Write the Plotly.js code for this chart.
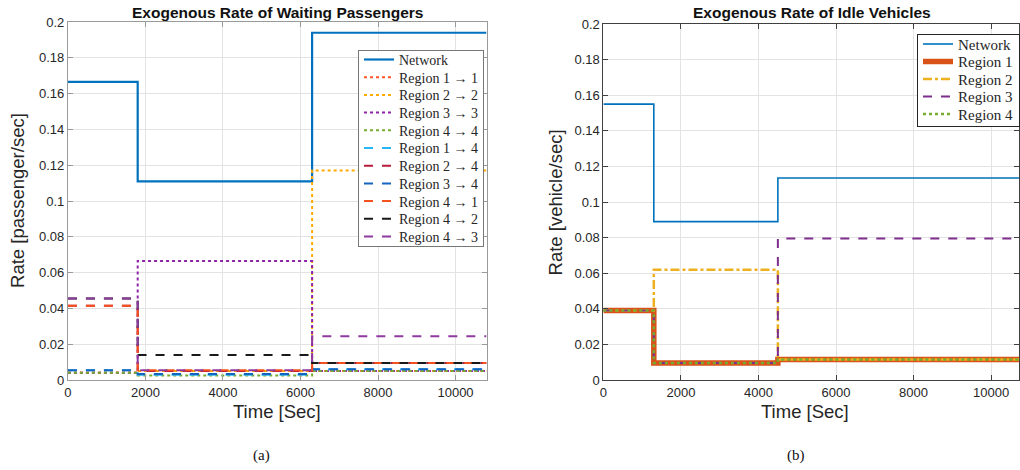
<!DOCTYPE html>
<html>
<head>
<meta charset="utf-8">
<script src="https://cdn.plot.ly/plotly-3.0.1.min.js"></script>
<style>html,body{margin:0;padding:0;background:#fff;}#chart{width:1020px;height:470px;}</style>
</head>
<body>
<div id="chart"></div>
<script>
// ---- Data: left panel (a) ----
var timesA = [0, 1800, 6300, 10800];
var namesA = ["Network", "Region 1 → 1", "Region 2 → 2", "Region 3 → 3", "Region 4 → 4",
              "Region 1 → 4", "Region 2 → 4", "Region 3 → 4", "Region 4 → 1", "Region 4 → 2", "Region 4 → 3"];
var networkA = [0.1665, 0.111, 0.194];
var r11 = [0.004, 0.005, 0.005];
var r22 = [0.004, 0.005, 0.117];
var r33 = [0.004, 0.0665, 0.005];
var r44 = [0.004, 0.0025, 0.005];
var r14 = [0.0055, 0.003, 0.006];
var r24 = [0.0415, 0.005, 0.0095];
var r34 = [0.0055, 0.0033, 0.006];
var r41 = [0.0415, 0.0055, 0.0095];
var r42 = [0.0455, 0.014, 0.0095];
var r43 = [0.0455, 0.0055, 0.0245];

// ---- Data: right panel (b) ----
var timesB = [0, 1300, 4500, 10800];
var namesB = ["Network", "Region 1", "Region 2", "Region 3", "Region 4"];
var networkB = [0.155, 0.089, 0.1135];
var reg1 = [0.039, 0.0095, 0.0115];
var reg2 = [0.039, 0.062, 0.0115];
var reg3 = [0.039, 0.0095, 0.0795];
var reg4 = [0.039, 0.0095, 0.0115];

function stepY(v){ return v.concat([v[v.length-1]]); }

var seriesA = [networkA, r11, r22, r33, r44, r14, r24, r34, r41, r42, r43];
var stylesA = [
  {color:'#0072BD', dash:'solid', width:2.2},
  {color:'#FF5722', dash:'dot', width:2},
  {color:'#FFAA00', dash:'dot', width:2},
  {color:'#8E24AA', dash:'dot', width:2},
  {color:'#77AC30', dash:'dot', width:2},
  {color:'#29B6F6', dash:'dash', width:2},
  {color:'#B71C3C', dash:'dash', width:2},
  {color:'#1565C0', dash:'dash', width:2},
  {color:'#F4511E', dash:'dash', width:2},
  {color:'#1a1a1a', dash:'dash', width:2},
  {color:'#8E3A9E', dash:'dash', width:2}
];
var traces = [];
for (var i = 0; i < seriesA.length; i++) {
  traces.push({x: timesA, y: stepY(seriesA[i]), name: namesA[i], mode:'lines',
    line:{shape:'hv', color:stylesA[i].color, dash:stylesA[i].dash, width:stylesA[i].width},
    xaxis:'x', yaxis:'y', legend:'legend'});
}
var seriesB = [networkB, reg1, reg2, reg3, reg4];
var stylesB = [
  {color:'#0072BD', dash:'solid', width:1.6},
  {color:'#D95319', dash:'solid', width:5.5},
  {color:'#EDB120', dash:'dashdot', width:2.5},
  {color:'#7E2F8E', dash:'dash', width:2},
  {color:'#77AC30', dash:'dot', width:2.5}
];
for (var j = 0; j < seriesB.length; j++) {
  traces.push({x: timesB, y: stepY(seriesB[j]), name: namesB[j], mode:'lines',
    line:{shape:'hv', color:stylesB[j].color, dash:stylesB[j].dash, width:stylesB[j].width},
    xaxis:'x2', yaxis:'y2', legend:'legend2'});
}

var W = 1020, H = 470;
function fx(p){ return p / W; }
function fy(p){ return 1 - p / H; }
var sans = 'Liberation Sans, Arial, sans-serif';
var serif = 'Liberation Serif, Times New Roman, serif';
var tickFont = {family:sans, size:13, color:'#262626'};
var axisCommon = {showgrid:true, gridcolor:'#e3e3e3', zeroline:false, showline:true, mirror:'ticks',
  ticks:'inside', ticklen:5, tickfont:tickFont};

function ann(text, px, py, size, family, color, angle){
  var a = {text:text, x:fx(px), y:fy(py), xref:'paper', yref:'paper', xanchor:'center', yanchor:'middle',
    showarrow:false, font:{family:family, size:size, color:color}};
  if (angle !== undefined) a.textangle = angle;
  return a;
}

var layout = {
  width: W, height: H,
  margin: {l:0, r:0, t:0, b:0},
  paper_bgcolor:'#fff', plot_bgcolor:'#fff',
  showlegend: true,
  xaxis: Object.assign({}, axisCommon, {domain:[fx(68), fx(487)], range:[0,10800], dtick:2000, tick0:0,
    tickformat:'d', linecolor:'#9a9a9a', tickcolor:'#9a9a9a', anchor:'y'}),
  yaxis: Object.assign({}, axisCommon, {domain:[fy(380), fy(22)], range:[0,0.2], dtick:0.02,
    linecolor:'#9a9a9a', tickcolor:'#9a9a9a', anchor:'x'}),
  xaxis2: Object.assign({}, axisCommon, {domain:[fx(604), 1], range:[0,10720], dtick:2000, tick0:0,
    tickformat:'d', linecolor:'#404040', tickcolor:'#404040', anchor:'y2'}),
  yaxis2: Object.assign({}, axisCommon, {domain:[fy(380), fy(24)], range:[0,0.2], dtick:0.02,
    linecolor:'#404040', tickcolor:'#404040', anchor:'x2'}),
  legend: {x: fx(358), y: fy(50), xanchor:'left', yanchor:'top', bgcolor:'#fff',
    bordercolor:'#777', borderwidth:1, font:{family:serif, size:14, color:'#262626'},
    tracegroupgap:0, itemwidth:30},
  legend2: {x: fx(918), y: fy(34), xanchor:'left', yanchor:'top', bgcolor:'#fff',
    bordercolor:'#262626', borderwidth:1, font:{family:serif, size:15, color:'#262626'},
    tracegroupgap:0, itemwidth:30},
  annotations: [
    ann('<b>Exogenous Rate of Waiting Passengers</b>', 278, 12, 15.5, sans, '#111'),
    ann('<b>Exogenous Rate of Idle Vehicles</b>', 813, 12, 15.5, sans, '#111'),
    ann('Rate [passenger/sec]', 18, 200, 18.5, sans, '#262626', -90),
    ann('Rate [vehicle/sec]', 556, 202, 18.5, sans, '#262626', -90),
    ann('Time [Sec]', 277, 411, 18.5, sans, '#262626'),
    ann('Time [Sec]', 806, 411, 18.5, sans, '#262626'),
    ann('(a)', 262, 455, 15, serif, '#111'),
    ann('(b)', 797, 455, 15, serif, '#111')
  ]
};

function parseT(s){
  var m = /translate\(\s*([-\d.e]+)[ ,]+([-\d.e]+)\s*\)/.exec(s || '');
  return m ? {x:parseFloat(m[1]), y:parseFloat(m[2])} : {x:0, y:0};
}
// compact legend row spacing to match the reference
function tighten(cls, top, sp, bottom){
  var lg = document.querySelector('g.' + cls);
  if (!lg) return;
  var items = lg.querySelectorAll('g.traces');
  if (!items.length) return;
  for (var k = 0; k < items.length; k++) {
    var t = parseT(items[k].getAttribute('transform'));
    items[k].setAttribute('transform', 'translate(' + t.x + ',' + (top + k * sp) + ')');
  }
  var h = top + (items.length - 1) * sp + bottom;
  var bg = lg.querySelector('rect.bg');
  if (bg) bg.setAttribute('height', h);
}

Plotly.newPlot('chart', traces, layout, {staticPlot:true}).then(function(){
  tighten('legend', 9.5, 17.7, 9.5);
  tighten('legend2', 10, 17.5, 11.5);
});
</script>
</body>
</html>
